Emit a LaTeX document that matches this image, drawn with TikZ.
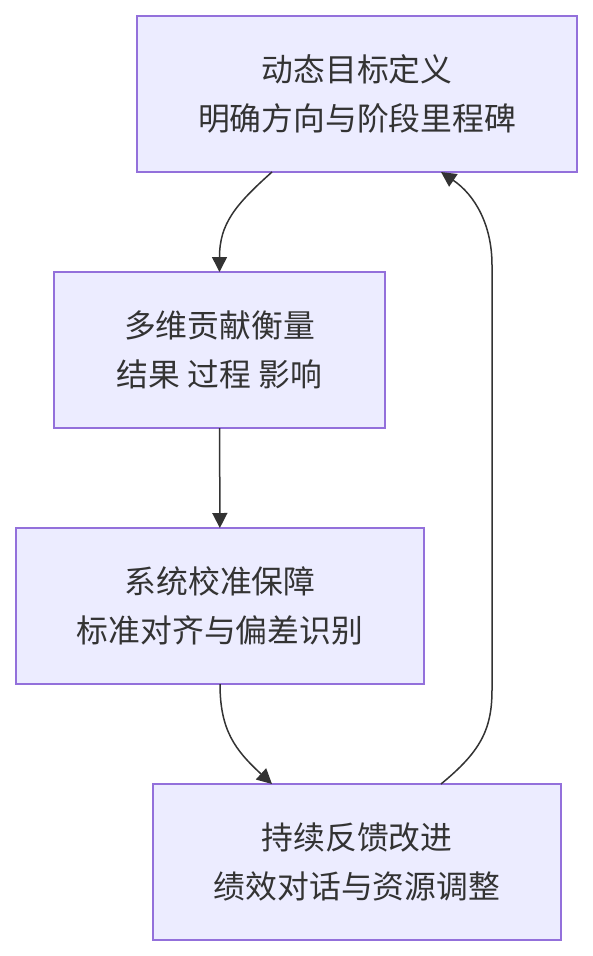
\documentclass[tikz,border=0pt]{standalone}
\usepackage{fontspec}
\setmainfont{Noto Sans CJK SC}
\usepackage{tikz}
\usetikzlibrary{positioning, arrows.meta}
\definecolor{boxfill}{HTML}{ECECFF}
\definecolor{boxline}{HTML}{9370DB}
\definecolor{ink}{HTML}{333333}
\tikzstyle{block} = [rectangle, minimum height=156pt, outer sep=0pt, align=center, text=ink, draw=boxline, line width=1.5pt, fill=boxfill, font=\fontsize{31.8}{49}\selectfont]
\tikzstyle{flow} = [line width=1.5pt, draw=ink, -{Triangle[length=15pt, width=15pt]}]

\begin{document}
\begin{tikzpicture}[node distance=100pt]
        \useasboundingbox (0,0) rectangle (593pt,-956pt);

        \node (goal) [block, minimum width=440pt] at (357pt,-94pt) {
            动态目标定义\\明确方向与阶段里程碑
        };

        \node (measure) [block, minimum width=331pt, below=of goal, xshift=-137.5pt] {
            多维贡献衡量\\结果 过程 影响
        };

        \node (calib) [block, minimum width=408pt, below=of measure, xshift=0.5pt] {
            系统校准保障\\标准对齐与偏差识别
        };

        \node (feedback) [block, minimum width=408pt, below=of calib, xshift=137pt] {
            持续反馈改进\\绩效对话与资源调整
        };

        % loop back on the right
        \coordinate (loopdown) at (492pt,-690pt);
        \coordinate (loopup) at (492pt,-265pt);

        \draw [flow] ([xshift=-85pt]goal.south) .. controls +(-37pt,-33pt) and +(0,48pt) .. (measure.north);
        \draw [flow] (measure) -- (calib);
        \draw [flow] (calib.south) .. controls +(0,-46pt) and +(-37pt,34pt) .. ([xshift=-85pt]feedback.north);
        \draw [flow] ([xshift=84pt]feedback.north) .. controls +(39pt,32pt) and +(0,-40pt) .. (loopdown)
            -- (loopup) .. controls +(0,40pt) and +(34pt,-23pt) .. ([xshift=84pt]goal.south);
    \end{tikzpicture}
\end{document}
